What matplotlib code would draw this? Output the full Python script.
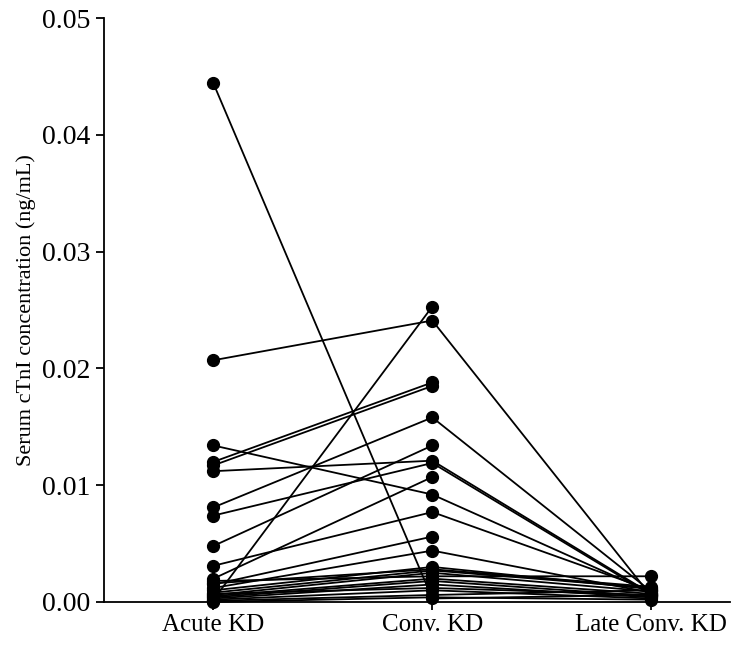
import numpy as np
import matplotlib.pyplot as plt

plt.rcParams['font.family'] = ['Liberation Serif', 'DejaVu Serif']

groups = ["Acute KD", "Conv. KD", "Late Conv. KD"]

# one entry per child: acute, convalescent, late convalescent (ng/mL)
acute = [0.0444, 0.0207, 0.0134, 0.0120, 0.0117, 0.0112, 0.0081, 0.0074,
         0.0048, 0.0031, 0.0020, 0.0002, 0.0015, 0.0012, 0.0018, 0.0010,
         0.0008, 0.0006, 0.0005, 0.0004, 0.0003, 0.0002, 0.0001, 0.0000,
         0.0016, 0.0007]
conv = [0.0003, 0.0241, 0.0092, 0.0188, 0.0185, 0.0121, 0.0158, 0.0119,
        0.0134, 0.0077, 0.0107, 0.0253, 0.0056, 0.0044, 0.0022, 0.0030,
        0.0027, 0.0025, 0.0020, 0.0018, 0.0015, 0.0010, 0.0006, 0.0004,
        0.0028, 0.0012]
late = [0.0006, 0.0005, 0.0008, np.nan, np.nan, 0.0007, 0.0009, 0.0006,
        np.nan, 0.0010, np.nan, np.nan, np.nan, 0.0008, 0.0022, 0.0011,
        0.0012, 0.0009, 0.0007, 0.0005, 0.0004, 0.0003, 0.0010, 0.0002,
        0.0013, 0.0006]

yticks = [0.00, 0.01, 0.02, 0.03, 0.04, 0.05]

fig = plt.figure(figsize=(7.5, 6.45), dpi=100)
ax = fig.add_axes([0.1387, 0.0667, 0.8346, 0.9053])

x = np.arange(len(groups))
for a, c, l in zip(acute, conv, late):
    ax.plot(x, [a, c, l], '-o', color='black', lw=1.3, ms=8.5, clip_on=False)

ax.set_xlim(-0.5, 2.36)
ax.set_ylim(0, 0.05)
ax.set_xticks(x)
ax.set_xticklabels(groups)
ax.set_yticks(yticks)
ax.set_yticklabels(["%.2f" % t for t in yticks])
ax.set_ylabel("Serum cTnI concentration (ng/mL)", fontsize=16, labelpad=4)

for s in ['top', 'right']:
    ax.spines[s].set_visible(False)
for s in ['left', 'bottom']:
    ax.spines[s].set_linewidth(1.3)
ax.tick_params(direction='out', length=6, width=1.3, labelsize=18, pad=3)
ax.tick_params(axis='y', labelsize=20, pad=4)

fig.savefig("out.png", dpi=100)
